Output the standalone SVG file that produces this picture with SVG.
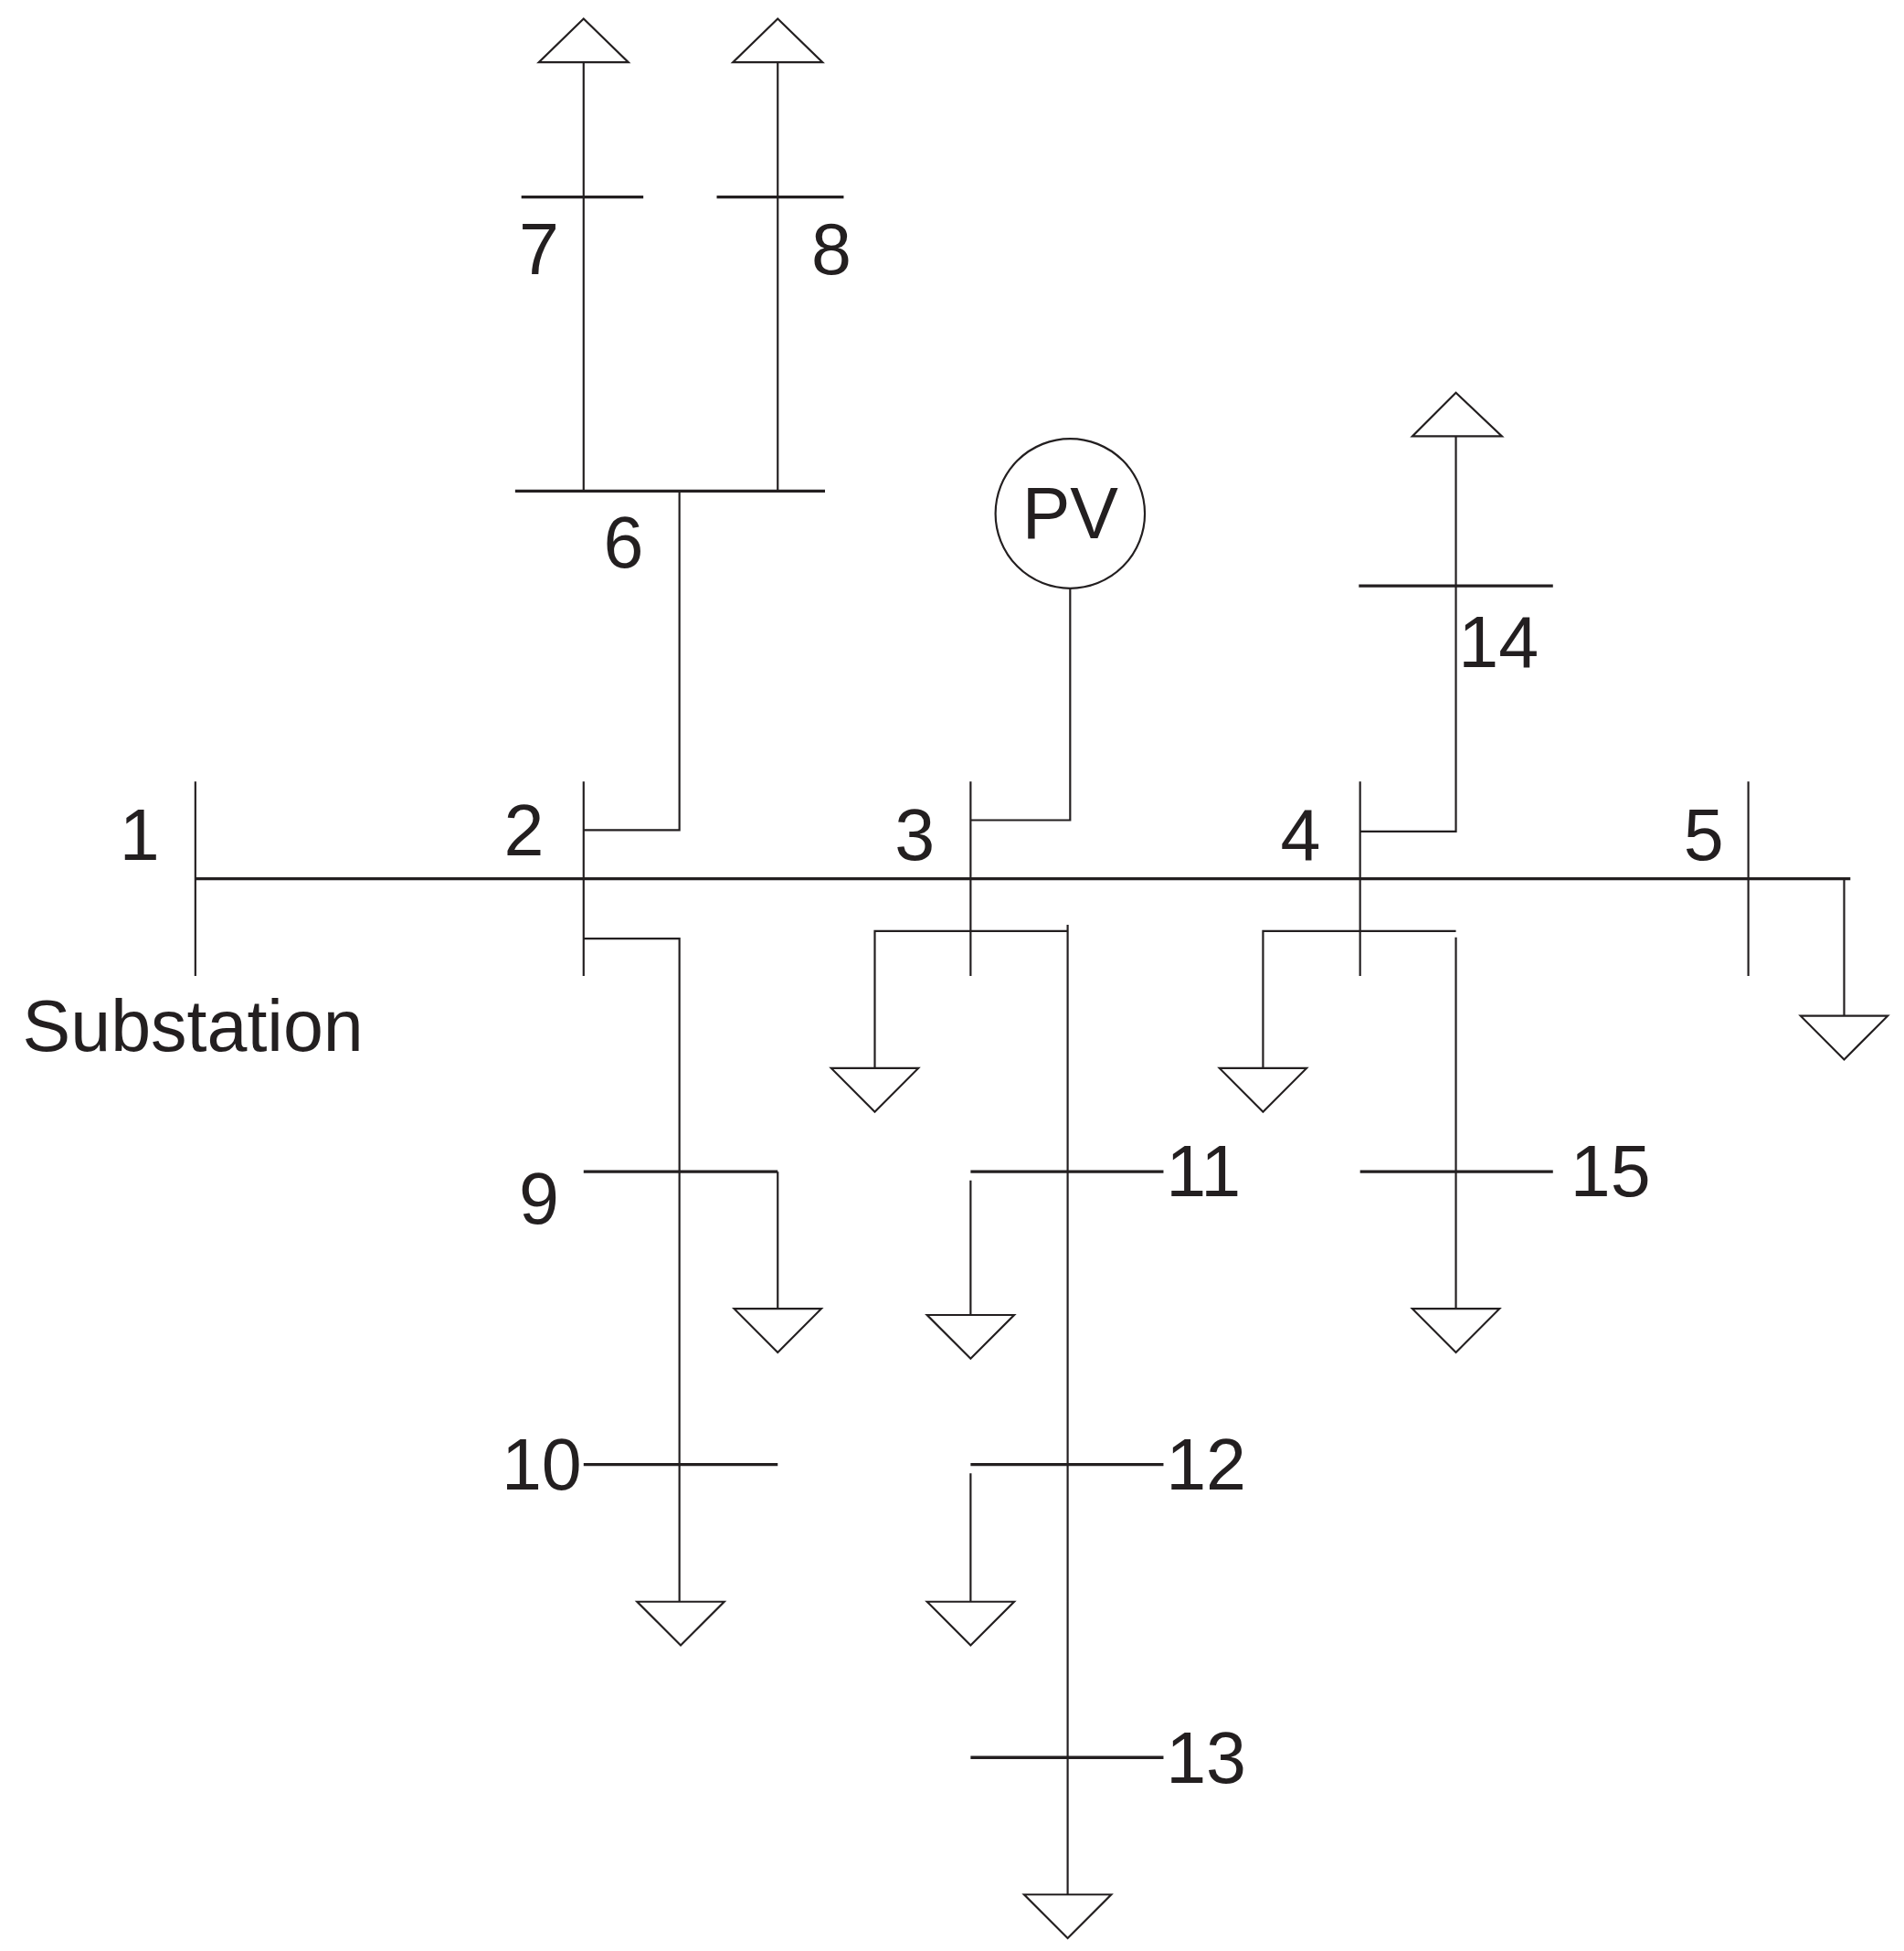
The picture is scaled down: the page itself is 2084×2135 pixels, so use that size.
<svg xmlns="http://www.w3.org/2000/svg" width="2084" height="2135" viewBox="0 0 2084 2135">
<style>
.l{stroke:#231f20;stroke-width:1.6;fill:none}
.b{stroke:#231f20;stroke-width:2.4;fill:none}
.t{fill:#fff;stroke:#231f20;stroke-width:1.6}
text{font-family:"Liberation Sans",Arial,sans-serif;font-size:58px;fill:#231f20}
</style>
<rect width="2084" height="2135" fill="#fff"/>
<g transform="scale(1.362,1.364)">
<g id="connectors">
<path class="b" d="M157 705H1487"/>
<path class="l" d="M469 666H546V394M469 394V50M625 394V50"/>
<path class="l" d="M469 753H546V1285M625 940V1050"/>
<path class="l" d="M780 658H860V472"/>
<path class="l" d="M703 857V747H858M858 742V1520M780 1055V947M780 1285V1182"/>
<path class="l" d="M1093 667H1170V350"/>
<path class="l" d="M1015 857V747H1170M1170 752V1050M1482 705V815"/>
</g>
<g id="bus1"><path class="l" d="M157 627V783"/><text x="96" y="690">1</text><text x="18" y="843">Substation</text></g>
<g id="bus2"><path class="l" d="M469 627V783"/><text x="405" y="686">2</text></g>
<g id="bus3"><path class="l" d="M780 627V783"/><text x="719" y="690">3</text></g>
<g id="bus4"><path class="l" d="M1093 627V783"/><text x="1029" y="690">4</text></g>
<g id="bus5"><path class="l" d="M1405 627V783"/><text x="1353" y="690">5</text></g>
<g id="bus6"><path class="b" d="M414 394H663"/><text x="485" y="455">6</text></g>
<g id="bus7"><path class="b" d="M419 158H517"/><text x="417" y="220">7</text><polygon class="t" points="433,50 505,50 469,15"/></g>
<g id="bus8"><path class="b" d="M576 158H678"/><text x="652" y="220">8</text><polygon class="t" points="589,50 661,50 625,15"/></g>
<g id="bus9"><path class="b" d="M469 940H625"/><text x="417" y="982">9</text><polygon class="t" points="590,1050 660,1050 625,1085"/></g>
<g id="bus10"><path class="b" d="M469 1175H625"/><text x="403" y="1195">10</text><polygon class="t" points="512,1285 582,1285 547,1320"/></g>
<g id="pv"><circle class="l" cx="860" cy="412" r="60"/><text x="860" y="432" text-anchor="middle">PV</text></g>
<g id="load3"><polygon class="t" points="668,857 738,857 703,892"/></g>
<g id="bus11"><path class="b" d="M780 940H935"/><text x="937" y="960">11</text><polygon class="t" points="745,1055 815,1055 780,1090"/></g>
<g id="bus12"><path class="b" d="M780 1175H935"/><text x="937" y="1195">12</text><polygon class="t" points="745,1285 815,1285 780,1320"/></g>
<g id="bus13"><path class="b" d="M780 1410H935"/><text x="937" y="1430">13</text><polygon class="t" points="823,1520 893,1520 858,1555"/></g>
<g id="bus14"><path class="b" d="M1092 470H1248"/><text x="1172" y="535">14</text><polygon class="t" points="1135,350 1207,350 1170,315"/></g>
<g id="load4"><polygon class="t" points="980,857 1050,857 1015,892"/></g>
<g id="bus15"><path class="b" d="M1093 940H1248"/><text x="1262" y="960">15</text><polygon class="t" points="1135,1050 1205,1050 1170,1085"/></g>
<g id="load5"><polygon class="t" points="1447,815 1517,815 1482,850"/></g>
</g>
</svg>
